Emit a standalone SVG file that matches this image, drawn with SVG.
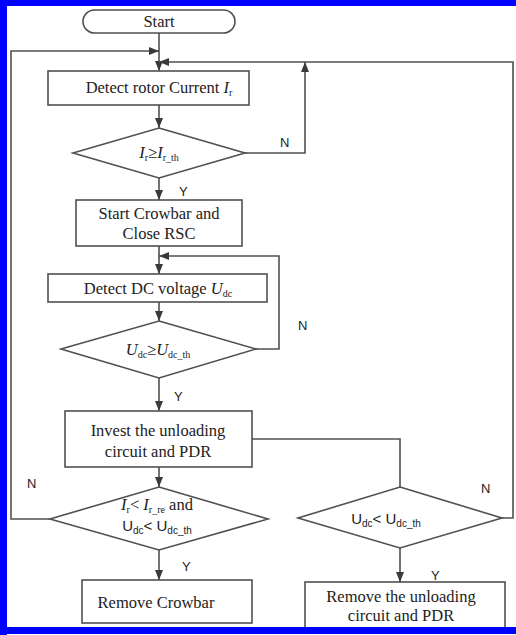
<svg xmlns="http://www.w3.org/2000/svg" width="516" height="635" viewBox="0 0 516 635">
<defs>
<marker id="ah" markerWidth="10" markerHeight="8" refX="10" refY="4" orient="auto" markerUnits="userSpaceOnUse">
<path d="M0,0 L10,4 L0,8 Z" fill="#3a3a3a"/>
</marker>
<style>
.box{fill:#fff;stroke:#505050;stroke-width:1.6}
.ln{fill:none;stroke:#505050;stroke-width:1.6}
.arr{fill:none;stroke:#505050;stroke-width:1.6;marker-end:url(#ah)}
.t{font-family:"Liberation Serif","Times New Roman",serif;font-size:16.5px;fill:#222;text-anchor:middle}
.s{font-family:"Liberation Sans",Arial,sans-serif;font-size:13px;fill:#222}
.d{font-family:"Liberation Sans",Arial,sans-serif;font-size:15px;fill:#222;text-anchor:middle}
.i{font-style:italic}
.sub{font-size:10px}
</style>
</defs>
<rect width="516" height="635" fill="#fff"/>
<g id="connectors">
<line class="arr" x1="159" y1="33" x2="159" y2="71"/>
<polyline class="arr" points="50,519 11,519 11,51 159,51"/>
<polyline class="arr" points="502,518 513,518 513,62 159,62"/>
<polyline class="arr" points="245,153 305,153 305,62"/>
<line class="arr" x1="159" y1="105" x2="159" y2="128"/>
<line class="arr" x1="159" y1="178" x2="159" y2="200"/>
<line class="arr" x1="159" y1="246" x2="159" y2="274"/>
<polyline class="arr" points="256,349 279,349 279,256 159,256"/>
<line class="arr" x1="159" y1="302" x2="159" y2="321"/>
<line class="arr" x1="159" y1="378" x2="159" y2="411"/>
<polyline class="ln" points="252,439 400,439 400,487"/>
<line class="arr" x1="159" y1="467" x2="159" y2="487"/>
<line class="arr" x1="159" y1="550" x2="159" y2="580"/>
<line class="arr" x1="400" y1="548" x2="400" y2="582"/>
<text class="s" x="280" y="147">N</text>
<text class="s" x="179" y="196">Y</text>
<text class="s" x="298" y="330">N</text>
<text class="s" x="174" y="401">Y</text>
<text class="s" x="27" y="488">N</text>
<text class="s" x="182" y="571">Y</text>
<text class="s" x="481" y="493">N</text>
<text class="s" x="431" y="580">Y</text>
</g>
<g id="start">
<rect class="box" x="83" y="10" width="152" height="23" rx="11.5"/>
<text class="t" x="159" y="27">Start</text>
</g>
<g id="detect-rotor">
<rect class="box" x="48" y="71" width="201" height="34"/>
<text class="t" x="159" y="93">Detect rotor Current <tspan class="i">I</tspan><tspan class="sub" dy="3">r</tspan></text>
</g>
<g id="decision-ir">
<polygon class="box" points="159,128 245,153 159,178 73,153"/>
<text class="t" x="159" y="158"><tspan class="i">I</tspan><tspan class="sub" dy="3">r</tspan><tspan dy="-3">≥</tspan><tspan class="i">I</tspan><tspan class="sub" dy="3">r_th</tspan></text>
</g>
<g id="start-crowbar">
<rect class="box" x="76" y="200" width="166" height="46"/>
<text class="t" x="159" y="219">Start Crowbar and</text>
<text class="t" x="159" y="239">Close RSC</text>
</g>
<g id="detect-dc">
<rect class="box" x="48" y="274" width="219" height="28"/>
<text class="t" x="158" y="294">Detect DC voltage <tspan class="i">U</tspan><tspan class="sub" dy="3">dc</tspan></text>
</g>
<g id="decision-udc">
<polygon class="box" points="159,321 256,349 159,378 61,349"/>
<text class="t" x="158" y="355"><tspan class="i">U</tspan><tspan class="sub" dy="3">dc</tspan><tspan dy="-3">≥</tspan><tspan class="i">U</tspan><tspan class="sub" dy="3">dc_th</tspan></text>
</g>
<g id="invest">
<rect class="box" x="65" y="411" width="187" height="56"/>
<text class="t" x="158" y="436">Invest the unloading</text>
<text class="t" x="158" y="457">circuit and PDR</text>
</g>
<g id="decision-both">
<polygon class="box" points="159,487 268,519 159,550 50,519"/>
<text class="t" x="157" y="510"><tspan class="i">I</tspan><tspan class="sub" dy="3">r</tspan><tspan dy="-3">&lt; </tspan><tspan class="i">I</tspan><tspan class="sub" dy="3">r_re</tspan><tspan dy="-3"> and</tspan></text>
<text class="d" x="157" y="531"><tspan>U</tspan><tspan class="sub" dy="3">dc</tspan><tspan dy="-3">&lt; U</tspan><tspan class="sub" dy="3">dc_th</tspan></text>
</g>
<g id="decision-udc2">
<polygon class="box" points="400,487 502,518 400,548 298,518"/>
<text class="d" x="386" y="524"><tspan>U</tspan><tspan class="sub" dy="3">dc</tspan><tspan dy="-3">&lt; U</tspan><tspan class="sub" dy="3">dc_th</tspan></text>
</g>
<g id="remove-crowbar">
<rect class="box" x="82" y="580" width="170" height="43"/>
<text class="t" x="156" y="608">Remove Crowbar</text>
</g>
<g id="remove-unloading">
<rect class="box" x="305" y="582" width="200" height="50"/>
<text class="t" x="401" y="602">Remove the unloading</text>
<text class="t" x="401" y="621">circuit and PDR</text>
</g>
<g id="frame">
<rect x="0" y="0" width="516" height="6" fill="#0000ff"/>
<rect x="0" y="0" width="7" height="635" fill="#0000ff"/>
<rect x="0" y="627" width="516" height="7" fill="#0000ff"/>
</g>
</svg>
